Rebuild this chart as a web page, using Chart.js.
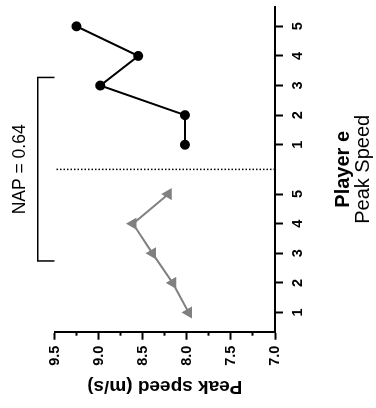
<!DOCTYPE html>
<html>
<head>
<meta charset="utf-8">
<script src="https://cdn.jsdelivr.net/npm/chart.js@4/dist/chart.umd.min.js"></script>
<style>
  html, body { margin: 0; padding: 0; background: #fff; overflow: hidden; }
  #wrap {
    position: absolute; left: 0; top: 0; width: 408px; height: 376px;
    transform-origin: 0 0;
    transform: translate(0, 408px) rotate(-90deg);
  }
</style>
</head>
<body>
<div id="wrap"><canvas id="napChart" width="408" height="376"></canvas></div>
<script>
// session labels and peak speeds (m/s)
const sessions = ["1", "2", "3", "4", "5"];
const preSpeed = [7.98, 8.16, 8.39, 8.61, 8.21];
const postSpeed = [8.02, 8.02, 8.98, 8.55, 9.25];
const speedMin = 7.0;
const speedMax = 9.5;
const napText = "NAP = 0.64";
const napSpan = [2.74, 8.94];
const napTop = 9.69;
const groupGap = 0.667;

(function () {
  const font = "'Liberation Sans', Arial, sans-serif";
  const prePos = sessions.map((s, i) => i + 1);
  const postPos = sessions.map((s, i) => i + 1 + sessions.length + groupGap);
  const divider = (prePos[prePos.length - 1] + postPos[0]) / 2;
  const tickPos = prePos.concat(postPos);

  const el = document.getElementById("napChart");
  new Chart(el, {
    type: "scatter",
    data: {
      datasets: [
        {
          data: prePos.map((x, i) => ({ x: x, y: preSpeed[i] })),
          showLine: true,
          borderColor: "#808080",
          backgroundColor: "#808080",
          borderWidth: 2,
          pointStyle: "triangle",
          pointRadius: 5,
        },
        {
          data: postPos.map((x, i) => ({ x: x, y: postSpeed[i] })),
          showLine: true,
          borderColor: "#000",
          backgroundColor: "#000",
          borderWidth: 2,
          pointStyle: "circle",
          pointRadius: 4,
        },
        {
          data: [{ x: divider, y: speedMin }, { x: divider, y: speedMax }],
          showLine: true,
          borderColor: "#000",
          borderWidth: 1.5,
          borderDash: [1.5, 2],
          pointRadius: 0,
        },
        {
          data: [
            { x: napSpan[0], y: speedMax },
            { x: napSpan[0], y: napTop },
            { x: napSpan[1], y: napTop },
            { x: napSpan[1], y: speedMax },
          ],
          showLine: true,
          borderColor: "#000",
          borderWidth: 1.5,
          pointRadius: 0,
          clip: false,
        },
      ],
    },
    options: {
      responsive: false,
      animation: false,
      devicePixelRatio: 1,
      layout: { padding: { left: 0, right: 2.7, top: 0, bottom: 0 } },
      plugins: {
        legend: { display: false },
        tooltip: { enabled: false },
        title: {
          display: true,
          position: "top",
          fullSize: false,
          text: napText,
          color: "#000",
          font: { family: font, size: 17.5, weight: "normal", lineHeight: 1 },
          padding: { top: 11, bottom: 26 },
        },
        subtitle: {
          display: true,
          position: "bottom",
          fullSize: false,
          text: "Peak Speed",
          color: "#000",
          font: { family: font, size: 20, weight: "normal", lineHeight: 1 },
          padding: { top: 0, bottom: 3 },
        },
      },
      scales: {
        x: {
          type: "linear",
          min: 0.35,
          max: 11.32,
          afterBuildTicks: (scale) => {
            scale.ticks = tickPos.map((v) => ({ value: v }));
          },
          afterFit: (scale) => { scale.height = 78; },
          ticks: {
            autoSkip: false,
            maxRotation: 0,
            padding: 6,
            color: "#000",
            font: { family: font, size: 14.5, weight: "bold" },
            callback: (v, i) => sessions[i % sessions.length],
          },
          grid: { drawOnChartArea: false, tickLength: 8, tickWidth: 2, tickColor: "#000" },
          border: { color: "#000", width: 2 },
          title: {
            display: true,
            text: "Player e",
            color: "#000",
            font: { family: font, size: 20, weight: "bold", lineHeight: 1 },
            padding: 0,
          },
        },
        y: {
          min: speedMin,
          max: speedMax,
          afterFit: (scale) => { scale.width = 76.3; },
          ticks: {
            stepSize: 0.25,
            autoSkip: false,
            padding: 6,
            color: "#000",
            font: { family: font, size: 14.5, weight: "bold" },
            callback: (v) => (Math.abs(v * 2 - Math.round(v * 2)) < 1e-6 ? v.toFixed(1) : ""),
          },
          grid: {
            drawOnChartArea: false,
            tickLength: 8,
            tickWidth: 2,
            tickColor: "#000",
            tickBorderDash: (ctx) => {
              const v = ctx.tick ? ctx.tick.value : 0;
              return Math.abs(v * 2 - Math.round(v * 2)) < 1e-6 ? [] : [0, 4, 4, 100];
            },
          },
          border: { color: "#000", width: 2 },
          title: {
            display: true,
            text: "Peak speed (m/s)",
            color: "#000",
            font: { family: font, size: 19, weight: "bold", lineHeight: 1 },
            padding: { top: 12, bottom: 0 },
          },
        },
      },
    },
  });
})();
</script>
</body>
</html>
